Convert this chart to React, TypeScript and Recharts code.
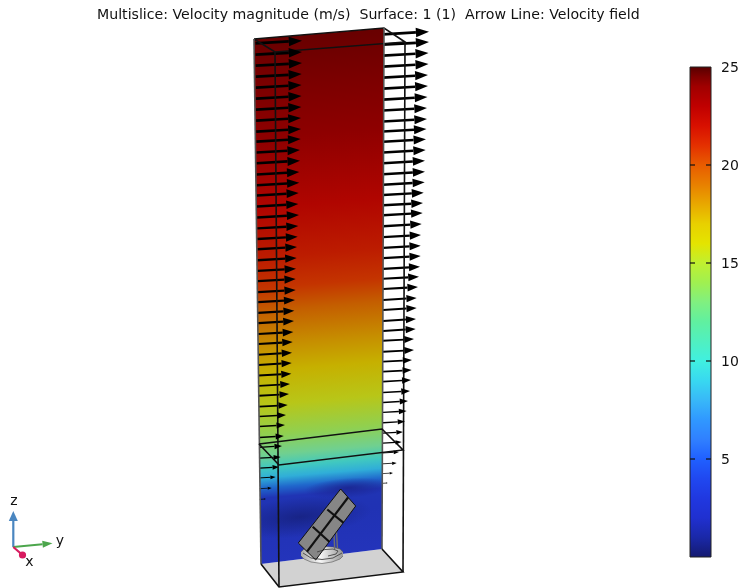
import React from 'react';
import { Area, ComposedChart, Line, ReferenceArea, ReferenceDot, ReferenceLine, XAxis, YAxis } from 'recharts';

const FONT = '"DejaVu Sans", sans-serif';
const TITLE = 'Multislice: Velocity magnitude (m/s)  Surface: 1 (1)  Arrow Line: Velocity field';

// arrows on the back slice edges (image coordinates)
const leftTipY = [40.7, 52, 63, 74, 85, 96, 107, 118, 129, 139, 150, 160.7, 172, 182.7, 193, 204, 215, 226, 236.7, 247, 258, 268.7, 279, 290, 300, 310.7, 321, 332, 342, 352.7, 363, 373.7, 384, 394, 405, 415, 425, 436, 446, 457, 467, 477, 488, 499];
const leftTipX = [302, 302, 302, 301.7, 301.5, 301.5, 301.3, 301, 301, 300.7, 300, 300, 299.3, 299.3, 298.7, 298.3, 299, 298.3, 297.7, 297, 296.7, 296, 295.7, 295.7, 295, 294.3, 294, 293.3, 292.7, 292, 291.7, 291.3, 290, 289, 287.7, 286, 285, 283.8, 282, 280.7, 279, 275.7, 271.7, 266];
const leftTailX = [255.5, 255.6, 255.7, 255.8, 255.9, 256, 256, 256.1, 256.2, 256.3, 256.5, 256.6, 256.7, 256.8, 256.9, 257, 257.1, 257.2, 257.3, 257.4, 257.5, 257.6, 257.7, 257.8, 257.9, 258, 258.1, 258.2, 258.3, 258.4, 258.5, 258.6, 258.7, 258.8, 258.9, 259, 259.1, 259.2, 259.3, 259.4, 259.5, 259.6, 259.7, 259.8];
const rightTipY = [31.7, 42, 53, 64, 75, 86, 97, 108, 119, 129, 139.3, 150, 160.7, 171.7, 182.3, 192.7, 203, 213, 224, 235, 245.7, 256, 266.7, 276.7, 287, 298, 308, 319, 329, 339, 350, 360, 370, 380, 391, 401, 411, 421.5, 432, 442, 452, 463, 473, 483];
const rightTipX = [429, 429, 428.5, 428.5, 428, 428, 427.5, 427, 427, 426.5, 426, 425.7, 425, 425, 424.7, 423.7, 423, 422.7, 421.7, 421, 420.7, 420.7, 420, 419, 418, 416.7, 416.7, 416, 415.7, 414, 414, 412, 411.7, 411, 410, 408, 406.7, 405, 403, 401.7, 399, 396.7, 393, 387.7];
const rightTailX = 383;

// geometry outlines
const sliceOutline = [[254, 39], [384, 28], [382, 549], [261, 564]];
const floorOutline = [[261, 564], [382, 549], [403, 572], [279, 587]];
const boxEdges = [
  [[254, 39], [384, 28], [405, 42], [275, 52], [254, 39]],
  [[384, 28], [382, 549]],
  [[254, 39], [261, 564]],
  [[275, 52], [279, 587]],
  [[405, 42], [403, 572]],
  [[261, 564], [279, 587], [403, 572], [382, 549]],
  [[259, 444], [382, 429], [403, 450], [279, 465], [259, 444]],
];
const panelOutline = [[340.7, 489], [355.7, 506], [315.7, 560], [298.3, 543]];
const panelLines = [
  [[340.7, 489], [355.7, 506], [315.7, 560], [298.3, 543], [340.7, 489]],
  [[348, 497.5], [307, 551.7]],
  [[327.3, 509.5], [343.3, 522.7]],
  [[312.7, 526.7], [329.3, 541.7]],
];
const baseOutline = [[301, 552], [304, 549], [312, 547], [322, 546.5], [333, 547], [340, 549], [343, 552], [343, 556], [340, 559], [332, 562], [322, 563.5], [311, 562], [304, 559], [301, 556]];
const baseLines = [
  [[317, 552], [325, 549.5], [333, 549], [338, 551], [336, 554], [328, 556]],
  [[303, 553], [311, 558], [322, 559.5], [333, 558], [342, 553]],
];
const postLines = [
  [[334, 535], [334.7, 549]],
  [[336.5, 532], [337.5, 549]],
];

// triad
const triadArrows = [
  { from: [13.3, 547], to: [13.3, 511], color: '#4a86c0', width: 2.2, head: 10, wide: 9 },
  { from: [13.3, 547], to: [52.5, 543.3], color: '#4ca64c', width: 2.2, head: 10, wide: 7 },
];
const triadX = [[13.3, 547], [22.5, 555]];
const triadLabels = [
  { x: 14, y: 500, text: 'z' },
  { x: 60, y: 540, text: 'y' },
  { x: 29.5, y: 561, text: 'x' },
];

// colours
const sliceStopY = [30, 80, 130, 200, 250, 280, 303, 337, 363, 397, 427, 447, 460, 470, 480, 490, 510, 560];
const sliceStopColor = ['#680000', '#7c0000', '#8e0000', '#b00500', '#bc1c00', '#c43400', '#c45e00', '#c68e00', '#c6b000', '#b8c618', '#90d050', '#70d090', '#40c8c0', '#30aed8', '#2068cc', '#2034b4', '#2032b4', '#2434bc'];
const colorbarValue = [25, 24.5, 24, 23, 22, 21, 20, 19, 18, 17, 16, 15, 14, 13, 12, 11, 10, 9, 8, 7, 6, 5, 4, 3, 2, 1, 0];
const colorbarColor = ['#580000', '#800000', '#a00000', '#c00000', '#d81000', '#e43000', '#e85c00', '#e88000', '#e8a800', '#e8d000', '#e4e400', '#c0f030', '#a0f050', '#80f080', '#60f0a0', '#50f0c0', '#40f0e0', '#38d8f0', '#38b8f8', '#3098ff', '#3080ff', '#2060ff', '#2048f0', '#2038e0', '#2030d0', '#1a28a8', '#141a70'];
const colorbarTicks = [5, 10, 15, 20, 25];

// turn a convex outline into x + [low, high] rows for a range Area
const toBand = (poly: number[][]) => {
  const xs = [...new Set(poly.map((p) => p[0]))].sort((a, b) => a - b);
  return xs.map((x) => {
    const ys: number[] = [];
    poly.forEach((p, i) => {
      const q = poly[(i + 1) % poly.length];
      if (x < Math.min(p[0], q[0]) || x > Math.max(p[0], q[0])) return;
      if (p[0] === q[0]) ys.push(p[1], q[1]);
      else ys.push(p[1] + ((q[1] - p[1]) * (x - p[0])) / (q[0] - p[0]));
    });
    return { x, band: [Math.min(...ys), Math.max(...ys)] };
  });
};

const toRows = (pts: number[][]) => pts.map(([x, y]) => ({ x, y }));

const ARROW_RISE = 0.058;

const flowArrow = (tailX: number, tipX: number, tipY: number) => {
  const len = tipX - tailX;
  const head = Math.min(len * 0.33, 2.5 + len * 0.23);
  const wide = Math.max(head * 0.72, 1.5);
  const neck = (len - head) / len;
  const tailY = tipY + len * ARROW_RISE;
  return {
    width: Math.max(len * 0.06, 0.7),
    rows: [
      { x: tailX, y: tailY },
      { x: tailX + len * neck, y: tailY - len * ARROW_RISE * neck, head, wide, ux: 1, uy: -ARROW_RISE },
    ],
  };
};

const arrows = [
  ...leftTipY.map((y, i) => flowArrow(leftTailX[i], leftTipX[i], y)),
  ...rightTipY.map((y, i) => flowArrow(rightTailX, rightTipX[i], y)),
];

const HeadDot = (fill: string) => (props: any) => {
  const { cx, cy, index, payload } = props;
  if (!payload.head) return <g key={index} />;
  const { head, wide, ux, uy } = payload;
  const pts = [
    [cx + ux * head, cy + uy * head],
    [cx - uy * (wide / 2), cy + ux * (wide / 2)],
    [cx + uy * (wide / 2), cy - ux * (wide / 2)],
  ];
  return <polygon key={index} points={pts.map((p) => p.join(',')).join(' ')} fill={fill} />;
};

const triadRows = (a: (typeof triadArrows)[number]) => {
  const dx = a.to[0] - a.from[0];
  const dy = a.to[1] - a.from[1];
  const len = Math.hypot(dx, dy);
  const ux = dx / len;
  const uy = dy / len;
  return [
    { x: a.from[0], y: a.from[1] },
    { x: a.to[0] - ux * a.head, y: a.to[1] - uy * a.head, head: a.head, wide: a.wide, ux, uy },
  ];
};

const sliceOffset = (y: number) => (((360 - 320) * 45 + (y - 28) * 535) / 288250) * 100;

const Scene = () => (
  <ComposedChart width={740} height={588} margin={{ top: 0, right: 0, bottom: 0, left: 0 }}>
    <defs>
      <linearGradient id="sliceFill" gradientUnits="userSpaceOnUse" x1={320} y1={28} x2={365} y2={563}>
        {sliceStopY.map((y, i) => (
          <stop key={y} offset={`${sliceOffset(y)}%`} stopColor={sliceStopColor[i]} />
        ))}
      </linearGradient>
      <radialGradient id="wakeLow" gradientUnits="userSpaceOnUse" cx={0} cy={0} r={1} gradientTransform="translate(300 517) rotate(-6) scale(72 20)">
        <stop offset="0%" stopColor="#121a68" stopOpacity={0.6} />
        <stop offset="100%" stopColor="#121a68" stopOpacity={0} />
      </radialGradient>
      <radialGradient id="wakeHigh" gradientUnits="userSpaceOnUse" cx={0} cy={0} r={1} gradientTransform="translate(348 488) rotate(-4) scale(44 10)">
        <stop offset="0%" stopColor="#1a2490" stopOpacity={0.9} />
        <stop offset="100%" stopColor="#1a2490" stopOpacity={0} />
      </radialGradient>
      <linearGradient id="baseFill" x1="0" y1="0" x2="1" y2="0">
        <stop offset="0%" stopColor="#a8a8a8" />
        <stop offset="45%" stopColor="#f8f8f8" />
        <stop offset="100%" stopColor="#989898" />
      </linearGradient>
    </defs>
    <XAxis type="number" dataKey="x" domain={[0, 740]} hide />
    <YAxis type="number" domain={[0, 588]} reversed hide />

    <Area data={toBand(floorOutline)} dataKey="band" type="linear" fill="#d2d2d2" fillOpacity={1} stroke="none" dot={false} activeDot={false} isAnimationActive={false} />
    <Area data={toBand(sliceOutline)} dataKey="band" type="linear" fill="url(#sliceFill)" fillOpacity={1} stroke="none" dot={false} activeDot={false} isAnimationActive={false} />
    <Area data={toBand(sliceOutline)} dataKey="band" type="linear" fill="url(#wakeLow)" fillOpacity={1} stroke="none" dot={false} activeDot={false} isAnimationActive={false} />
    <Area data={toBand(sliceOutline)} dataKey="band" type="linear" fill="url(#wakeHigh)" fillOpacity={1} stroke="none" dot={false} activeDot={false} isAnimationActive={false} />

    {postLines.map((pts, i) => (
      <Line key={`post${i}`} data={toRows(pts)} dataKey="y" stroke="#707070" strokeWidth={1.4} dot={false} activeDot={false} isAnimationActive={false} />
    ))}
    <Area data={toBand(baseOutline)} dataKey="band" type="linear" fill="url(#baseFill)" fillOpacity={1} stroke="#555555" strokeWidth={0.6} dot={false} activeDot={false} isAnimationActive={false} />
    {baseLines.map((pts, i) => (
      <Line key={`base${i}`} data={toRows(pts)} dataKey="y" stroke="#444444" strokeWidth={0.9} dot={false} activeDot={false} isAnimationActive={false} />
    ))}
    <Area data={toBand(panelOutline)} dataKey="band" type="linear" fill="#868686" fillOpacity={1} stroke="none" dot={false} activeDot={false} isAnimationActive={false} />
    {panelLines.map((pts, i) => (
      <Line key={`panel${i}`} data={toRows(pts)} dataKey="y" stroke="#111111" strokeWidth={i === 0 ? 1 : 2.2} dot={false} activeDot={false} isAnimationActive={false} />
    ))}

    {arrows.map((a, i) => (
      <Line key={`arrow${i}`} data={a.rows} dataKey="y" stroke="#000000" strokeWidth={a.width} dot={HeadDot('#000000')} activeDot={false} isAnimationActive={false} />
    ))}

    {boxEdges.map((pts, i) => (
      <Line key={`edge${i}`} data={toRows(pts)} dataKey="y" stroke={i === 1 || i === 2 ? '#555555' : '#111111'} strokeWidth={1.6} dot={false} activeDot={false} isAnimationActive={false} />
    ))}

    {triadArrows.map((a) => (
      <Line key={a.color} data={triadRows(a)} dataKey="y" stroke={a.color} strokeWidth={a.width} dot={HeadDot(a.color)} activeDot={false} isAnimationActive={false} />
    ))}
    <Line data={toRows(triadX)} dataKey="y" stroke="#d81b60" strokeWidth={2.2} dot={false} activeDot={false} isAnimationActive={false} />
    <ReferenceDot x={triadX[1][0]} y={triadX[1][1]} r={3.6} fill="#d81b60" stroke="none" />
    {triadLabels.map((t) => (
      <ReferenceDot
        key={t.text}
        x={t.x}
        y={t.y}
        r={0}
        stroke="none"
        label={{ value: t.text, position: 'center', fontSize: 14, fill: '#111111', fontFamily: FONT }}
      />
    ))}
  </ComposedChart>
);

const colorbarRows = [{ x: 0, top: 25 }, { x: 1, top: 25 }];

const Colorbar = () => (
  <ComposedChart data={colorbarRows} width={60} height={510} margin={{ top: 10, right: 0, bottom: 10, left: 10 }}>
    <defs>
      <linearGradient id="barFill" x1="0" y1="0" x2="0" y2="1">
        {colorbarValue.map((v, i) => (
          <stop key={v} offset={`${((25 - v) / 25) * 100}%`} stopColor={colorbarColor[i]} />
        ))}
      </linearGradient>
    </defs>
    <XAxis type="number" dataKey="x" domain={[0, 1]} hide />
    <YAxis
      orientation="right"
      type="number"
      width={29}
      domain={[0, 25]}
      ticks={colorbarTicks}
      axisLine={false}
      tickLine={false}
      tickSize={0}
      tickMargin={10}
      tick={{ fontSize: 14, fill: '#111111', fontFamily: FONT, textAnchor: 'start' }}
    />
    <Area dataKey="top" baseValue={0} type="linear" fill="url(#barFill)" fillOpacity={1} stroke="none" dot={false} activeDot={false} isAnimationActive={false} />
    <ReferenceArea x1={0} x2={1} y1={0} y2={25} fill="none" fillOpacity={0} stroke="#222222" strokeWidth={1} />
    {colorbarTicks.slice(0, 4).map((t) => (
      <ReferenceLine key={`l${t}`} segment={[{ x: 0, y: t }, { x: 0.24, y: t }]} stroke="#111111" strokeWidth={1.2} />
    ))}
    {colorbarTicks.slice(0, 4).map((t) => (
      <ReferenceLine key={`r${t}`} segment={[{ x: 0.76, y: t }, { x: 1, y: t }]} stroke="#111111" strokeWidth={1.2} />
    ))}
  </ComposedChart>
);

export default function App() {
  return (
    <div style={{ position: 'absolute', left: 0, top: 0, width: 740, height: 588, background: '#fff', overflow: 'hidden', filter: 'blur(0.4px)' }}>
      <div style={{ position: 'absolute', left: 0, top: 0 }}>
        <Scene />
      </div>
      <div style={{ position: 'absolute', left: 680, top: 57 }}>
        <Colorbar />
      </div>
      <div style={{ position: 'absolute', left: 97, top: 6, fontFamily: FONT, fontSize: 14.15, color: '#111', whiteSpace: 'pre' }}>{TITLE}</div>
    </div>
  );
}
